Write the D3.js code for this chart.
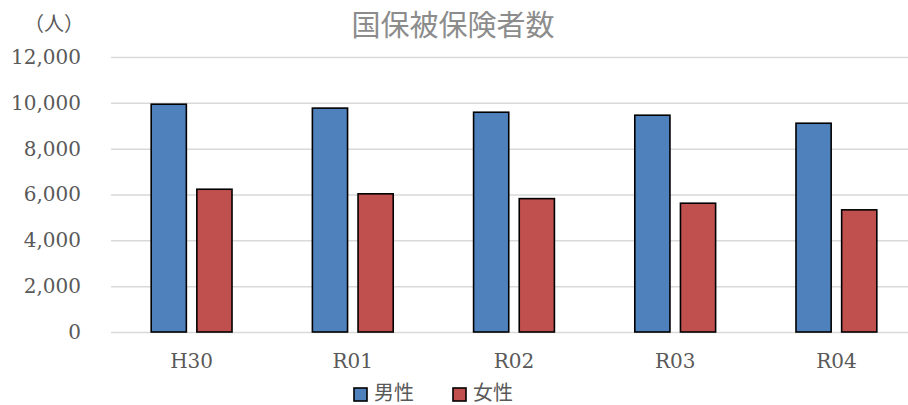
<!DOCTYPE html>
<html>
<head>
<meta charset="utf-8">
<script src="https://cdn.jsdelivr.net/npm/d3@7"></script>
<style>
  html, body { margin: 0; padding: 0; background: #fff; }
  svg { display: block; }
</style>
</head>
<body>
<svg id="chart" width="908" height="405"></svg>
<script>
// Fiscal years
const categories = ["H30", "R01", "R02", "R03", "R04"];
// Insured persons (people)
const maleValues = [9940, 9770, 9590, 9460, 9110];
const femaleValues = [6230, 6030, 5820, 5620, 5330];
const seriesNames = ["男性", "女性"];
const yTicks = [0, 2000, 4000, 6000, 8000, 10000, 12000];

const colors = { "男性": "#4F81BD", "女性": "#C0504D" };
const series = [
  { name: seriesNames[0], values: maleValues },
  { name: seriesNames[1], values: femaleValues }
];

const svg = d3.select("#chart");
const plot = { left: 111, right: 917, top: 57, bottom: 332 };

const y = d3.scaleLinear().domain([0, 12000]).range([plot.bottom, plot.top]);
const x0 = d3.scaleBand().domain(categories).range([plot.left, plot.right]).padding(0);
const x1 = d3.scaleBand().domain(seriesNames).range([0, x0.bandwidth()])
  .paddingInner(0.23).paddingOuter(0.88);

// Title
svg.append("text")
  .attr("x", 453).attr("y", 36)
  .attr("text-anchor", "middle")
  .attr("font-family", "'Noto Sans CJK JP', sans-serif")
  .attr("font-size", 29)
  .attr("fill", "#8c8c8c")
  .text("国保被保険者数");

// Unit label
svg.append("text")
  .attr("x", 54).attr("y", 31)
  .attr("text-anchor", "middle")
  .attr("font-family", "'Noto Sans CJK JP', sans-serif")
  .attr("font-size", 20)
  .attr("fill", "#595959")
  .text("（人）");

// Gridlines and y tick labels
const yAxis = d3.axisLeft(y).tickValues(yTicks)
  .tickSize(-(plot.right - plot.left))
  .tickPadding(30)
  .tickFormat(d3.format(","));
const gy = svg.append("g")
  .attr("transform", `translate(${plot.left},0)`)
  .call(yAxis);
gy.select(".domain").remove();
gy.selectAll(".tick line").attr("stroke", "#d9d9d9").attr("stroke-width", 1.5);
gy.selectAll(".tick text")
  .attr("font-family", "'DejaVu Serif', serif")
  .attr("font-size", 20)
  .attr("fill", "#595959");

// Bars
const groups = svg.append("g").selectAll("g")
  .data(categories)
  .join("g")
  .attr("transform", d => `translate(${x0(d)},0)`);

groups.selectAll("rect")
  .data((d, i) => series.map(s => ({ name: s.name, value: s.values[i] })))
  .join("rect")
  .attr("x", d => x1(d.name))
  .attr("y", d => y(d.value))
  .attr("width", x1.bandwidth())
  .attr("height", d => y(0) - y(d.value))
  .attr("fill", d => colors[d.name])
  .attr("stroke", "#000")
  .attr("stroke-width", 1.6);

// X axis labels
const xAxis = d3.axisBottom(x0).tickSize(0).tickPadding(22);
const gx = svg.append("g")
  .attr("transform", `translate(0,${plot.bottom})`)
  .call(xAxis);
gx.select(".domain").remove();
gx.selectAll(".tick text")
  .attr("font-family", "'DejaVu Serif', serif")
  .attr("font-size", 20)
  .attr("fill", "#595959");

// Legend
const legendX = [354, 453];
const legend = svg.append("g").selectAll("g")
  .data(seriesNames)
  .join("g")
  .attr("transform", (d, i) => `translate(${legendX[i]},388)`);
legend.append("rect")
  .attr("width", 13).attr("height", 13)
  .attr("fill", d => colors[d])
  .attr("stroke", "#000").attr("stroke-width", 1.6);
legend.append("text")
  .attr("x", 20).attr("y", 12)
  .attr("font-family", "'Noto Sans CJK JP', sans-serif")
  .attr("font-size", 20)
  .attr("fill", "#595959")
  .text(d => d);
</script>
</body>
</html>
